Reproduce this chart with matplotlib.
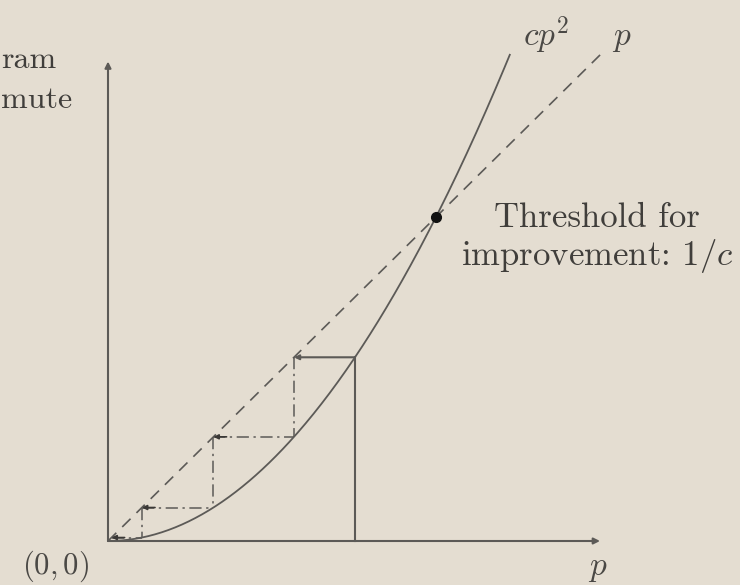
import matplotlib
matplotlib.use("Agg")
import matplotlib.pyplot as plt
import numpy as np

plt.rcParams["mathtext.fontset"] = "cm"

# Model parameters
c = 1.0
p_start = 0.753          # initial error probability p0
n_steps = 4              # number of iterations drawn
p_curve_max = 1.225
p_line_max = 1.51
x_axis_max = 1.50
y_axis_max = 1.48

bg = "#e4ddd1"
ink = "#5c5a57"
text_ink = "#403e3b"

fig = plt.figure(figsize=(7.4, 5.85), dpi=100, facecolor=bg)
ax = fig.add_axes([0, 0, 1, 1], facecolor=bg)
ax.set_xlim(-108 / 328, (740 - 108) / 328)
ax.set_ylim(-(585 - 541) / 324, 541 / 324)
ax.axis("off")

# Axes with arrows
arrow_kw = dict(arrowstyle="-|>", color=ink, lw=1.5, mutation_scale=9, shrinkA=0, shrinkB=0)
ax.annotate("", xy=(x_axis_max, 0), xytext=(0, 0), arrowprops=arrow_kw)
ax.annotate("", xy=(0, y_axis_max), xytext=(0, 0), arrowprops=arrow_kw)

# cp^2 curve and the diagonal p
p = np.linspace(0, p_curve_max, 300)
ax.plot(p, c * p ** 2, color=ink, lw=1.3)
ax.plot([0, p_line_max], [0, p_line_max], color=ink, lw=1.2, dashes=(7, 5))

# Cobweb iteration p -> c p^2
step_arrow = dict(arrowstyle="-|>", color="#3a3836", lw=1.2, mutation_scale=7, shrinkA=0, shrinkB=0)
dashdot = (0, (8, 3, 1.5, 3))
pk = p_start
ax.plot([pk, pk], [0, c * pk ** 2], color=ink, lw=1.5)
for k in range(n_steps):
    nxt = c * pk ** 2
    if k == 0:
        ax.annotate("", xy=(nxt, nxt), xytext=(pk, nxt),
                    arrowprops=dict(step_arrow, color=ink, lw=1.5))
    else:
        ax.plot([pk, pk], [pk, nxt], color=ink, lw=1.1, linestyle=dashdot)
        ax.plot([nxt, pk], [nxt, nxt], color=ink, lw=1.1, linestyle=dashdot)
        ax.annotate("", xy=(nxt, nxt), xytext=(nxt + 0.04, nxt), arrowprops=step_arrow)
    pk = nxt

# Threshold point
ax.plot([1 / c], [1 / c], "o", color="#111111", markersize=7)

ax.text(1.49, 0.932, "Threshold for\nimprovement: $1/c$", ha="center", va="center",
        fontsize=25, family="cmr10", color=text_ink, linespacing=1.1)
ax.text(1.335, 1.56, "$cp^2$", ha="center", va="center", fontsize=24, color="#4a4845")
ax.text(1.567, 1.555, "$p$", ha="center", va="center", fontsize=24, color="#4a4845")
ax.text(1.494, -0.083, "$p$", ha="center", va="center", fontsize=24, color="#4a4845")
ax.text(-0.159, -0.077, "$(0, 0)$", ha="center", va="center", fontsize=22, color="#4a4845")

# Vertical axis caption fragments
ax.text(-0.327, 1.485, "ram", ha="left", va="center", fontsize=23, family="cmr10", color=text_ink)
ax.text(-0.327, 1.36, "mute", ha="left", va="center", fontsize=23, family="cmr10", color=text_ink)

fig.savefig("out.png", dpi=100, facecolor=bg)
